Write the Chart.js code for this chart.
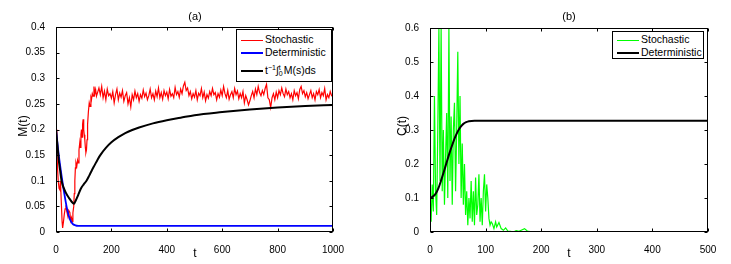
<!DOCTYPE html>
<html>
<head>
<meta charset="utf-8">
<script src="https://cdn.jsdelivr.net/npm/chart.js@4.4.1/dist/chart.umd.min.js"></script>
<style>
  body { margin: 0; background: #fff; font-family: "Liberation Sans", Arial, sans-serif; }
  #wrap { position: relative; width: 731px; height: 264px; overflow: hidden; }
  .panel { position: absolute; top: 0; height: 264px; }
  .lbl { position: absolute; width: 40px; height: 14px; line-height: 14px; text-align: center; font-size: 11px; color: #000; white-space: nowrap; }
  .ylbl { transform: rotate(-90deg); font-size: 12px; }
  .legend { position: absolute; box-sizing: border-box; border: 1px solid #000; background: #fff; font-size: 10.5px; }
  .row { position: absolute; left: 0; height: 12px; line-height: 12px; white-space: nowrap; }
  .row i { display: inline-block; width: 22px; height: 0; border-top-style: solid; vertical-align: middle; margin: 0 2px 0 4px; }
  .lim { display: inline-block; font-size: 7px; line-height: 6px; vertical-align: middle; text-align: left; margin: 0 1px 0 0; }
  .lim b { display: block; font-weight: normal; }
  sup { font-size: 7px; line-height: 0; vertical-align: 4px; }
</style>
</head>
<body>
<div id="wrap">
  <div class="panel" style="left:0;width:365px"><canvas id="left"></canvas></div>
  <div class="panel" style="left:365px;width:366px"><canvas id="right"></canvas></div>

  <div class="lbl" style="left:175px;top:9px">(a)</div>
  <div class="lbl" style="left:549px;top:9px">(b)</div>
  <div class="lbl ylbl" style="left:3px;top:119px">M(t)</div>
  <div class="lbl ylbl" style="left:382px;top:119px">C(t)</div>
  <div class="lbl" style="left:175px;top:246px;font-size:12px">t</div>
  <div class="lbl" style="left:549px;top:246px;font-size:12px">t</div>

  <div class="legend" style="left:236px;top:29px;width:96px;height:53px">
    <div class="row" style="top:3px"><i style="border-color:#ff0000;border-top-width:1px"></i><span>Stochastic</span></div>
    <div class="row" style="top:16px"><i style="border-color:#0000ff;border-top-width:2px"></i><span>Deterministic</span></div>
    <div class="row" style="top:32px;height:16px;line-height:16px"><i style="border-color:#000;border-top-width:2px"></i><span>t<sup>−1</sup>∫<span class="lim"><b>t</b><b>0</b></span>M(s)ds</span></div>
  </div>
  <div class="legend" style="left:612px;top:31px;width:92px;height:28px">
    <div class="row" style="top:1px"><i style="border-color:#00ff00;border-top-width:1px"></i><span>Stochastic</span></div>
    <div class="row" style="top:14px"><i style="border-color:#000;border-top-width:2px"></i><span>Deterministic</span></div>
  </div>
</div>
<script>
// ---- panel (a): M(t) ----
const mStochEarlyT = [0, 3, 6, 8, 11, 14, 16, 19, 22, 24, 27, 30, 33, 36, 39, 43, 46, 50, 53, 56,
  59, 61, 64, 66, 68, 70, 72, 75, 78, 80, 83, 86, 88, 90, 92, 94, 96, 98, 100, 102,
  104, 106, 108, 110, 112, 114, 117, 120, 123, 126, 128, 131, 134, 137, 140, 143, 146];
const mStochEarlyY = [0.2, 0.16, 0.12, 0.1, 0.085, 0.082, 0.1, 0.06, 0.02, 0.008, 0.02, 0.035, 0.045, 0.052, 0.04, 0.03, 0.042, 0.038, 0.022, 0.028,
  0.02, 0.037, 0.05, 0.075, 0.1, 0.125, 0.135, 0.128, 0.14, 0.135, 0.16, 0.175, 0.165, 0.19, 0.2, 0.185, 0.21, 0.22, 0.2, 0.19,
  0.18, 0.165, 0.155, 0.16, 0.18, 0.21, 0.235, 0.252, 0.245, 0.262, 0.258, 0.27, 0.265, 0.284, 0.27, 0.278, 0.265];
// sampled every 5 from t=150 to t=1000
const mStochLateStart = 150, mStochLateStep = 5;
const mStochLateY = [
  0.272,0.281,0.268,0.284,0.262,0.275,0.258,0.279,0.266,0.27,
  0.261,0.274,0.252,0.268,0.279,0.258,0.271,0.263,0.276,0.255,
  0.266,0.272,0.25,0.262,0.244,0.268,0.258,0.275,0.262,0.27,
  0.255,0.268,0.261,0.277,0.264,0.271,0.258,0.266,0.279,0.262,
  0.27,0.258,0.275,0.264,0.281,0.262,0.272,0.259,0.276,0.266,
  0.273,0.26,0.278,0.265,0.27,0.262,0.282,0.268,0.274,0.263,
  0.279,0.27,0.285,0.292,0.276,0.281,0.266,0.274,0.26,0.27,
  0.263,0.276,0.258,0.271,0.266,0.28,0.262,0.273,0.256,0.268,
  0.261,0.274,0.266,0.28,0.268,0.272,0.258,0.27,0.263,0.277,
  0.266,0.284,0.27,0.262,0.276,0.259,0.268,0.274,0.262,0.28,
  0.268,0.275,0.26,0.27,0.262,0.274,0.252,0.266,0.258,0.248,
  0.256,0.266,0.274,0.262,0.279,0.268,0.284,0.272,0.266,0.276,
  0.268,0.28,0.288,0.262,0.258,0.243,0.262,0.27,0.258,0.273,
  0.262,0.276,0.268,0.281,0.27,0.264,0.279,0.268,0.274,0.262,
  0.27,0.258,0.276,0.266,0.272,0.26,0.278,0.284,0.27,0.276,
  0.264,0.272,0.26,0.268,0.276,0.262,0.27,0.258,0.274,0.268,
  0.278,0.262,0.272,0.266,0.28,0.258,0.268,0.262,0.274,0.266,
  0.265];
const mDetT = [0, 10, 20, 30, 40, 50, 60, 70, 80, 100, 200, 1000];
const mDetY = [0.2, 0.15, 0.11, 0.075, 0.045, 0.025, 0.016, 0.013, 0.012, 0.012, 0.012, 0.012];
const mAvgT = [0, 5, 10, 15, 20, 30, 40, 50, 60, 65, 70, 80, 90, 100, 110, 120, 130, 140, 150, 160, 180, 200, 225, 250, 275, 300, 350, 400, 450, 500, 600, 700, 800, 900, 1000];
const mAvgY = [0.2, 0.17, 0.14, 0.12, 0.1, 0.083, 0.072, 0.064, 0.057, 0.055, 0.06, 0.072, 0.085, 0.093, 0.1, 0.11, 0.121, 0.131, 0.141, 0.15, 0.164, 0.175, 0.185, 0.193, 0.199, 0.204, 0.212, 0.218, 0.223, 0.228, 0.234, 0.239, 0.243, 0.246, 0.248];
const mXTicks = [0, 200, 400, 600, 800, 1000];
const mYTicks = [0, 0.05, 0.1, 0.15, 0.2, 0.25, 0.3, 0.35, 0.4];

// ---- panel (b): C(t) ----
// sampled every 2 from t=0 to t=110
const cStochStart = 0, cStochStep = 2;
const cStochY = [0.1, 0.03, 0.14, 0.06, 0.4, 0.12, 0.05, 0.3, 0.6, 0.15, 0.6, 0.12, 0.3, 0.08, 0.22, 0.35, 0.1, 0.6, 0.15, 0.34,
  0.08, 0.3, 0.38, 0.12, 0.3, 0.53, 0.2, 0.4, 0.1, 0.26, 0.08, 0.2, 0.05, 0.12, 0.02, 0.1, 0.04, 0.15, 0.03, 0.12,
  0.02, 0.16, 0.05, 0.08, 0.17, 0.03, 0.1, 0.02, 0.12, 0.17, 0.06, 0.14, 0.1, 0.04, 0.02, 0.03];
const cTailT = [112, 115, 118, 120, 124, 128, 132, 136, 140, 145, 150, 155, 160, 165, 170, 175, 180, 200, 300, 400, 500];
const cTailY = [0.025, 0.01, 0.03, 0.015, 0.028, 0.01, 0.005, 0.012, 0.003, 0.002, 0, 0.004, 0.002, 0.006, 0.01, 0.003, 0.001, 0, 0, 0, 0];
const cDetT = [0, 5, 10, 15, 20, 25, 30, 35, 40, 45, 50, 55, 60, 65, 70, 80, 100, 500];
const cDetY = [0.1, 0.104, 0.112, 0.128, 0.152, 0.178, 0.205, 0.232, 0.256, 0.278, 0.296, 0.309, 0.318, 0.323, 0.326, 0.327, 0.327, 0.327];
const cXTicks = [0, 100, 200, 300, 400, 500];
const cYTicks = [0, 0.1, 0.2, 0.3, 0.4, 0.5, 0.6];

const pairs = (ts, ys) => ts.map((t, i) => ({ x: t, y: ys[i] }));
const stepped = (start, step, ys) => ys.map((y, i) => ({ x: start + i * step, y }));

const font = { family: '"Liberation Sans", Arial, sans-serif', size: 10 };

// MATLAB-like box with inward ticks on all four sides
const boxTicks = {
  id: "boxTicks",
  afterDatasetsDraw(chart) {
    const { ctx, chartArea: a, scales: { x, y } } = chart;
    const L = Math.round(a.left) + 0.5, R = Math.round(a.right) - 0.5;
    const T = Math.round(a.top) + 0.5, B = Math.round(a.bottom) - 0.5;
    ctx.save();
    ctx.strokeStyle = "#000";
    ctx.lineWidth = 1;
    ctx.strokeRect(L, T, R - L, B - T);
    ctx.beginPath();
    x.ticks.forEach(t => {
      const px = Math.round(x.getPixelForValue(t.value)) + 0.5;
      ctx.moveTo(px, B); ctx.lineTo(px, B - 3);
      ctx.moveTo(px, T); ctx.lineTo(px, T + 3);
    });
    y.ticks.forEach(t => {
      const py = Math.round(y.getPixelForValue(t.value)) + 0.5;
      ctx.moveTo(L, py); ctx.lineTo(L + 3, py);
      ctx.moveTo(R, py); ctx.lineTo(R - 3, py);
    });
    ctx.stroke();
    ctx.restore();
  }
};

function makeChart(id, datasets, xMax, xTicks, yMax, yTicks, yWidth, padRight, padTop) {
  new Chart(document.getElementById(id), {
    type: "line",
    data: { datasets },
    options: {
      responsive: true,
      maintainAspectRatio: false,
      animation: false,
      layout: { padding: { top: padTop, right: padRight, left: 0, bottom: 0 } },
      elements: { point: { radius: 0 } },
      plugins: { legend: { display: false }, tooltip: { enabled: false } },
      scales: {
        x: {
          type: "linear", min: 0, max: xMax,
          afterBuildTicks: s => { s.ticks = xTicks.map(v => ({ value: v })); },
          ticks: { font, color: "#000", padding: 4, maxRotation: 0, autoSkip: false, callback: v => String(v) },
          grid: { display: false }, border: { display: false },
          afterFit: s => { s.height = 32; }
        },
        y: {
          type: "linear", min: 0, max: yMax,
          afterBuildTicks: s => { s.ticks = yTicks.map(v => ({ value: v })); },
          ticks: { font, color: "#000", padding: 3, autoSkip: false, callback: v => String(+v.toFixed(2)) },
          grid: { display: false }, border: { display: false },
          afterFit: s => { s.width = yWidth; }
        }
      }
    },
    plugins: [boxTicks]
  });
}

makeChart("left", [
  { data: pairs(mAvgT, mAvgY), borderColor: "#000", borderWidth: 2, cubicInterpolationMode: "monotone" },
  { data: pairs(mDetT, mDetY), borderColor: "#0000ff", borderWidth: 1.8, cubicInterpolationMode: "monotone" },
  { data: pairs(mStochEarlyT, mStochEarlyY).concat(stepped(mStochLateStart, mStochLateStep, mStochLateY)),
    borderColor: "#ff0000", borderWidth: 1.2, tension: 0 }
], 1000, mXTicks, 0.4, mYTicks, 56, 32, 27);

makeChart("right", [
  { data: pairs(cDetT, cDetY), borderColor: "#000", borderWidth: 2, cubicInterpolationMode: "monotone" },
  { data: stepped(cStochStart, cStochStep, cStochY).concat(pairs(cTailT, cTailY)),
    borderColor: "#00ff00", borderWidth: 1.2, tension: 0 }
], 500, cXTicks, 0.6, cYTicks, 65, 23, 28);
</script>
</body>
</html>
